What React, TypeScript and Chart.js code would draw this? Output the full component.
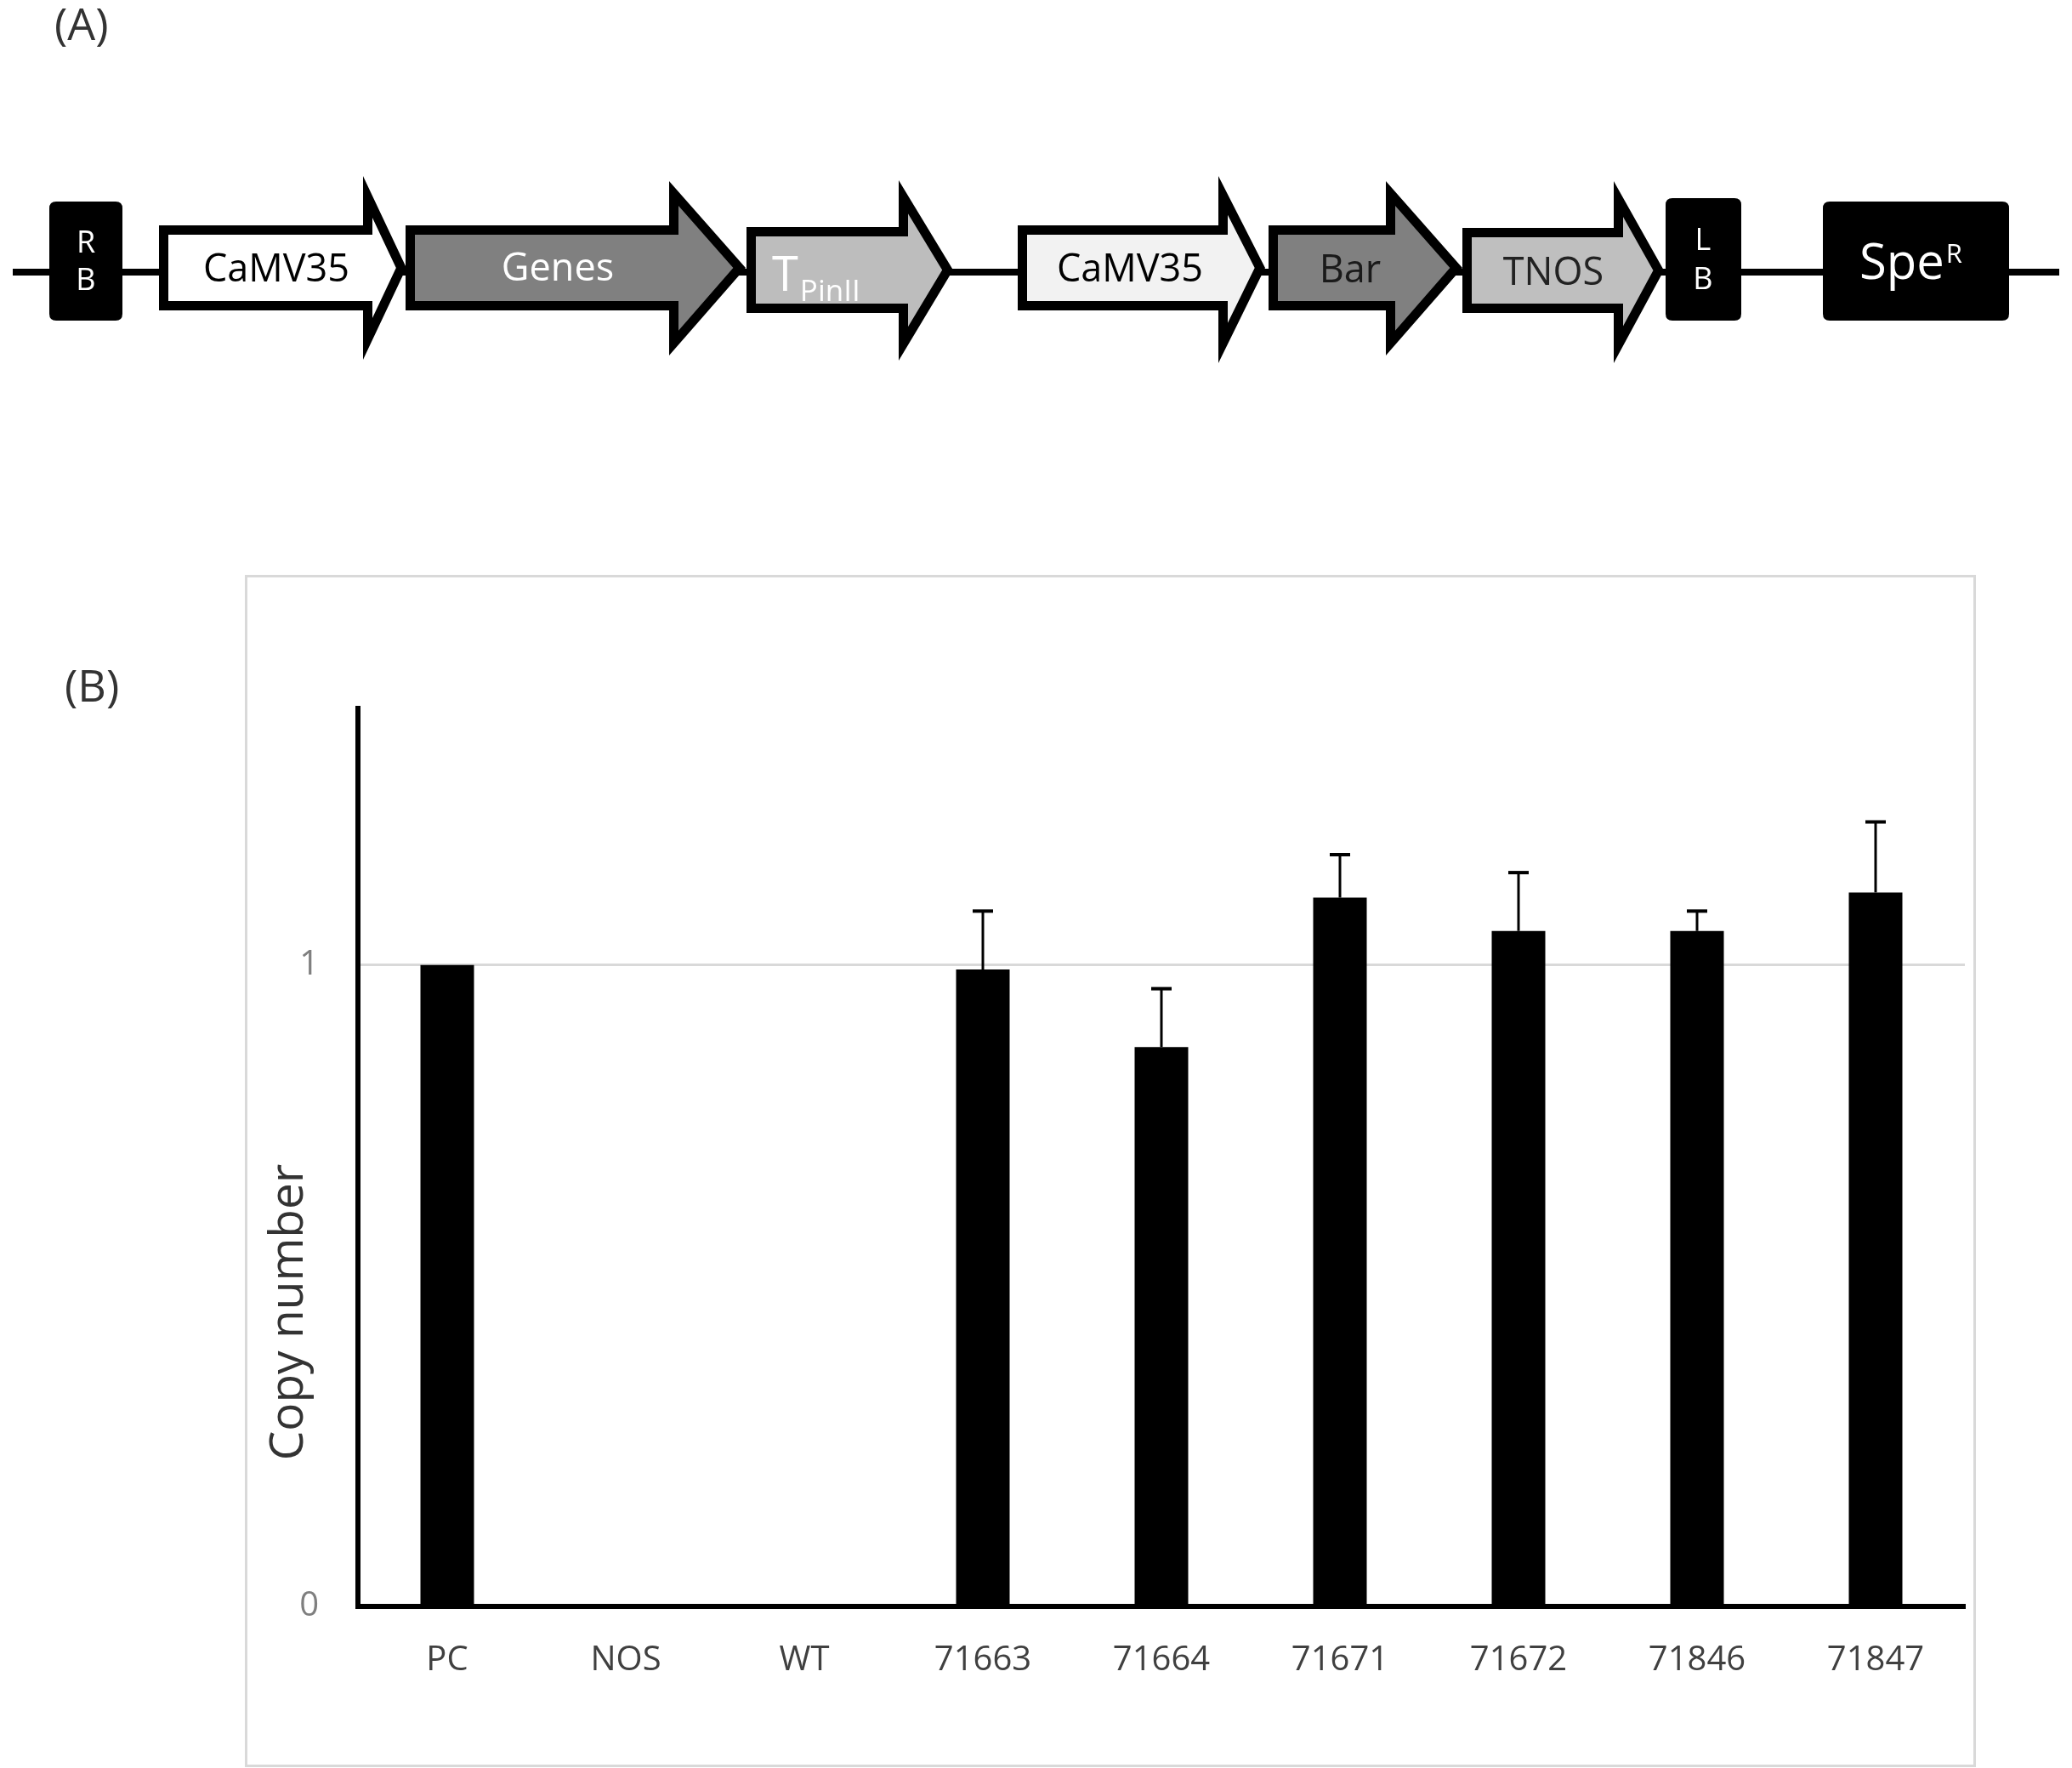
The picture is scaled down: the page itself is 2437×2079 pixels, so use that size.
import React, { useEffect, useRef } from "react";
import { Chart, registerables } from "chart.js";

Chart.register(...registerables);

// ---------- data ----------
const categories = ["PC", "NOS", "WT", "71663", "71664", "71671", "71672", "71846", "71847"];
const copyNumber = [1.0, 0, 0, 0.993, 0.872, 1.105, 1.053, 1.053, 1.113];
const copyNumberError = [0, 0, 0, 0.091, 0.091, 0.067, 0.091, 0.031, 0.11];
const yTickValues = [0, 1];
const yAxisMax = 1.4;
const yAxisTitle = "Copy number";
const panelLabels = ["(A)", "(B)"];

const W = 2437;
const H = 2079;
const FAMILY = '"Open Sans", "DejaVu Sans", sans-serif';

type Pt = [number, number];
type ArrowSpec = {
  L: number; X: number; P: number;
  T: number; B: number; HT: number; HB: number;
  fill: string;
};

function offsetPolygon(pts: Pt[], d: number): Pt[] {
  const n = pts.length;
  const lines = pts.map((p, i) => {
    const q = pts[(i + 1) % n];
    let dx = q[0] - p[0];
    let dy = q[1] - p[1];
    const len = Math.hypot(dx, dy);
    dx /= len;
    dy /= len;
    const nx = -dy;
    const ny = dx;
    return { px: p[0] + nx * d, py: p[1] + ny * d, dx, dy };
  });
  const out: Pt[] = [];
  for (let i = 0; i < n; i++) {
    const a = lines[(i - 1 + n) % n];
    const b = lines[i];
    const den = a.dx * b.dy - a.dy * b.dx;
    if (Math.abs(den) < 1e-9) {
      out.push([b.px, b.py]);
      continue;
    }
    const t = ((b.px - a.px) * b.dy - (b.py - a.py) * b.dx) / den;
    out.push([a.px + a.dx * t, a.py + a.dy * t]);
  }
  return out;
}

function fillPoly(ctx: CanvasRenderingContext2D, pts: Pt[], color: string) {
  ctx.beginPath();
  pts.forEach((p, i) => (i === 0 ? ctx.moveTo(p[0], p[1]) : ctx.lineTo(p[0], p[1])));
  ctx.closePath();
  ctx.fillStyle = color;
  ctx.fill();
}

function drawArrow(ctx: CanvasRenderingContext2D, a: ArrowSpec) {
  const M = (a.T + a.B) / 2;
  const outer: Pt[] = [
    [a.L, a.T], [a.X, a.T], [a.X, a.HT], [a.P, M], [a.X, a.HB], [a.X, a.B], [a.L, a.B],
  ];
  fillPoly(ctx, outer, "#000");
  fillPoly(ctx, offsetPolygon(outer, 11), a.fill);
}

function roundBox(ctx: CanvasRenderingContext2D, x: number, y: number, w: number, h: number, r: number) {
  ctx.beginPath();
  ctx.moveTo(x + r, y);
  ctx.lineTo(x + w - r, y);
  ctx.quadraticCurveTo(x + w, y, x + w, y + r);
  ctx.lineTo(x + w, y + h - r);
  ctx.quadraticCurveTo(x + w, y + h, x + w - r, y + h);
  ctx.lineTo(x + r, y + h);
  ctx.quadraticCurveTo(x, y + h, x, y + h - r);
  ctx.lineTo(x, y + r);
  ctx.quadraticCurveTo(x, y, x + r, y);
  ctx.closePath();
  ctx.fillStyle = "#000";
  ctx.fill();
}

function drawConstruct(ctx: CanvasRenderingContext2D) {
  // backbone
  ctx.strokeStyle = "#000";
  ctx.lineWidth = 8;
  ctx.beginPath();
  ctx.moveTo(15, 320);
  ctx.lineTo(2422, 320);
  ctx.stroke();

  // boxes
  roundBox(ctx, 58, 237, 86, 140, 8);
  roundBox(ctx, 1959, 233, 89, 144, 8);
  roundBox(ctx, 2144, 237, 219, 140, 8);

  const arrows: ArrowSpec[] = [
    { L: 187, X: 427, P: 478, T: 265, B: 365, HT: 207, HB: 423, fill: "#ffffff" },
    { L: 477, X: 787, P: 877, T: 265, B: 365, HT: 213, HB: 418, fill: "#808080" },
    { L: 878, X: 1057, P: 1121, T: 267, B: 368, HT: 212, HB: 424, fill: "#bdbdbd" },
    { L: 1197, X: 1433, P: 1488, T: 265, B: 365, HT: 207, HB: 427, fill: "#f2f2f2" },
    { L: 1492, X: 1630, P: 1720, T: 265, B: 365, HT: 213, HB: 418, fill: "#808080" },
    { L: 1720, X: 1898, P: 1957, T: 268, B: 368, HT: 213, HB: 427, fill: "#bfbfbf" },
  ];
  arrows.forEach((a) => drawArrow(ctx, a));

  ctx.textBaseline = "alphabetic";
  ctx.textAlign = "center";
  ctx.font = `45px ${FAMILY}`;
  ctx.fillStyle = "#000";
  ctx.fillText("CaMV35", 325, 331);
  ctx.fillText("CaMV35", 1329, 331);
  ctx.fillStyle = "#ffffff";
  ctx.fillText("Genes", 656, 330);
  ctx.fillStyle = "#1a1a1a";
  ctx.fillText("Bar", 1588, 332);
  ctx.fillStyle = "#222";
  ctx.fillText("TNOS", 1827, 335);

  // T PinII
  ctx.fillStyle = "#ffffff";
  ctx.textAlign = "left";
  ctx.font = `56px ${FAMILY}`;
  ctx.fillText("T", 908, 342);
  const tW = ctx.measureText("T").width;
  ctx.font = `35px ${FAMILY}`;
  ctx.fillText("PinII", 908 + tW + 2, 354);

  // RB / LB
  ctx.textAlign = "center";
  ctx.font = `36px ${FAMILY}`;
  ctx.fillText("R", 101, 297);
  ctx.fillText("B", 101, 341);
  ctx.fillText("L", 2003, 294);
  ctx.fillText("B", 2003, 340);

  // Spe^R
  ctx.textAlign = "left";
  ctx.font = `58px ${FAMILY}`;
  ctx.fillText("Spe", 2187, 328);
  const sW = ctx.measureText("Spe").width;
  ctx.font = `31px ${FAMILY}`;
  ctx.fillText("R", 2187 + sW + 2, 309);
}

const panelPlugin = {
  id: "panels",
  beforeDraw(chart: any) {
    const ctx: CanvasRenderingContext2D = chart.ctx;
    ctx.save();
    ctx.fillStyle = "#ffffff";
    ctx.fillRect(0, 0, W, H);

    // panel B frame
    ctx.strokeStyle = "#d9d9d9";
    ctx.lineWidth = 3;
    ctx.strokeRect(289.5, 677.5, 2033, 1399);

    // panel labels
    ctx.fillStyle = "#333";
    ctx.font = `52px ${FAMILY}`;
    ctx.textAlign = "left";
    ctx.textBaseline = "alphabetic";
    ctx.fillText(panelLabels[0], 64, 47);
    ctx.fillText(panelLabels[1], 76, 825);

    // y axis title
    ctx.save();
    ctx.translate(340, 1543);
    ctx.rotate(-Math.PI / 2);
    ctx.textAlign = "center";
    ctx.textBaseline = "middle";
    ctx.font = `55px ${FAMILY}`;
    ctx.fillStyle = "#333";
    ctx.fillText(yAxisTitle, 0, 0);
    ctx.restore();

    drawConstruct(ctx);
    ctx.restore();
  },
};

const errorBarPlugin = {
  id: "errorBars",
  afterDatasetsDraw(chart: any) {
    const meta = chart.getDatasetMeta(0);
    const yScale = chart.scales.y;
    const ctx: CanvasRenderingContext2D = chart.ctx;
    ctx.save();
    ctx.strokeStyle = "#000";
    meta.data.forEach((bar: any, i: number) => {
      const err = copyNumberError[i];
      if (!err) return;
      const v = copyNumber[i];
      const y0 = yScale.getPixelForValue(v);
      const y1 = yScale.getPixelForValue(v + err);
      ctx.lineWidth = 3;
      ctx.beginPath();
      ctx.moveTo(bar.x, y0);
      ctx.lineTo(bar.x, y1);
      ctx.stroke();
      ctx.lineWidth = 4;
      ctx.beginPath();
      ctx.moveTo(bar.x - 12, y1);
      ctx.lineTo(bar.x + 12, y1);
      ctx.stroke();
    });
    ctx.restore();
  },
};

export default function App() {
  const canvasRef = useRef<HTMLCanvasElement | null>(null);

  useEffect(() => {
    document.body.style.margin = "0";
    document.body.style.overflow = "hidden";
    let chart: Chart | null = null;
    let cancelled = false;

    const build = () => {
      if (cancelled || !canvasRef.current) return;
      chart = new Chart(canvasRef.current, {
        type: "bar",
        data: {
          labels: categories,
          datasets: [
            {
              data: copyNumber,
              backgroundColor: "#000",
              borderWidth: 0,
              barPercentage: 0.3,
              categoryPercentage: 1,
            },
          ],
        },
        options: {
          responsive: false,
          animation: false,
          devicePixelRatio: 1,
          layout: { padding: { left: 280, top: 833, right: 126, bottom: 60 } },
          plugins: {
            legend: { display: false },
            tooltip: { enabled: false },
            title: { display: false },
          },
          scales: {
            x: {
              grid: { display: false, drawTicks: false },
              border: { display: true, color: "#000", width: 6 },
              ticks: {
                color: "#404040",
                font: { family: FAMILY, size: 40 },
                padding: 40,
                maxRotation: 0,
                autoSkip: false,
              },
              afterFit: (s: any) => {
                s.height = 130;
              },
            },
            y: {
              min: 0,
              max: yAxisMax,
              grid: {
                color: (c: any) => (c.tick && c.tick.value === 1 ? "#d9d9d9" : "rgba(0,0,0,0)"),
                lineWidth: 3,
                drawTicks: false,
              },
              border: { display: true, color: "#000", width: 6 },
              ticks: {
                stepSize: 1,
                includeBounds: false,
                color: "#7f7f7f",
                font: { family: FAMILY, size: 40 },
                padding: 46,
              },
              afterBuildTicks: (s: any) => {
                s.ticks = yTickValues.map((v) => ({ value: v }));
              },
              afterFit: (s: any) => {
                s.width = 141;
              },
            },
          },
        },
        plugins: [panelPlugin, errorBarPlugin],
      } as any);
    };

    const fontsReady = (document as any).fonts
      ? Promise.all([
          (document as any).fonts.load(`40px "Open Sans"`),
          (document as any).fonts.load(`55px "Open Sans"`),
        ]).catch(() => null)
      : Promise.resolve(null);
    fontsReady.then(build);

    return () => {
      cancelled = true;
      if (chart) chart.destroy();
    };
  }, []);

  return (
    <canvas
      ref={canvasRef}
      width={W}
      height={H}
      style={{ position: "absolute", left: 0, top: 0, width: W, height: H, display: "block" }}
    />
  );
}
